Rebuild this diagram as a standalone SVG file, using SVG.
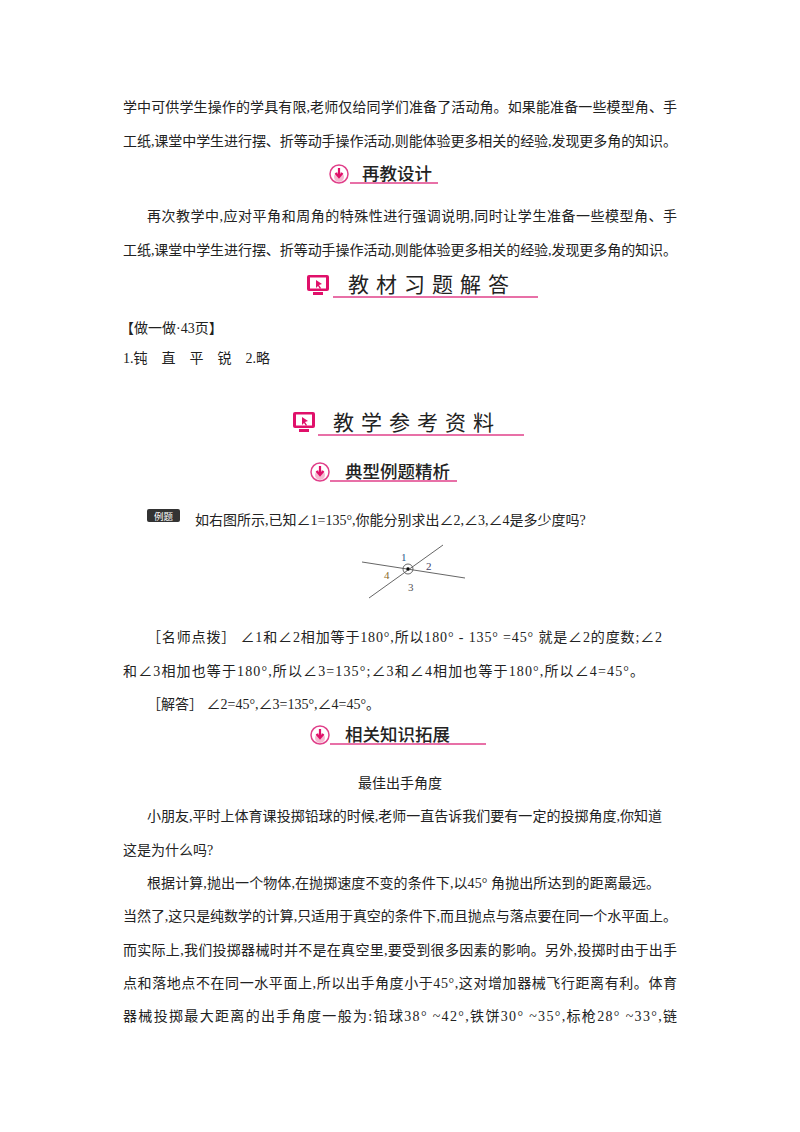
<svg xmlns="http://www.w3.org/2000/svg" width="800" height="1132" viewBox="0 0 800 1132">
<style>
.t{font-family:"Liberation Serif","Noto Sans CJK SC",serif;font-size:14px;fill:#222}
.h{font-family:"Noto Sans CJK SC",sans-serif;font-size:17.5px;font-weight:500;fill:#222}
.H{font-family:"Noto Sans CJK SC",sans-serif;font-size:21px;fill:#222;letter-spacing:7px}
.ul{stroke:#e0408a;stroke-width:1.3}
.n{font-family:"Liberation Serif",serif;font-size:11px}
</style>
<defs>
<g id="ic"><circle r="9" fill="#fff" stroke="#e0408a" stroke-width="1.5"/><circle cy="3" r="5" fill="#f5b8d0"/><path d="M0,-6V2M-3.5,-1L0,3L3.5,-1" stroke="#e0106a" stroke-width="2.2" fill="none"/></g>
<g id="mon"><rect x="-11" y="-10" width="22" height="16" rx="2" fill="#e0106a"/><rect x="-8" y="-7.5" width="16" height="11" fill="#fff"/><path d="M-2,-5l6,4l-3,1l2,3l-1,1l-2,-3l-2,2z" fill="#e0106a"/><rect x="-5" y="7" width="10" height="3" fill="#e0106a"/></g>
</defs>
<rect width="800" height="1132" fill="#fff"/>
<text class="t" x="123" y="112" textLength="554">学中可供学生操作的学具有限,老师仅给同学们准备了活动角。如果能准备一些模型角、手</text>
<text class="t" x="123" y="146" textLength="554">工纸,课堂中学生进行摆、折等动手操作活动,则能体验更多相关的经验,发现更多角的知识。</text>
<g id="h1"><use href="#ic" x="339" y="174"/><text class="h" x="362" y="180">再教设计</text><line class="ul" x1="350" y1="183" x2="438" y2="183"/></g>
<text class="t" x="147" y="221" textLength="530">再次教学中,应对平角和周角的特殊性进行强调说明,同时让学生准备一些模型角、手</text>
<text class="t" x="123" y="255" textLength="554">工纸,课堂中学生进行摆、折等动手操作活动,则能体验更多相关的经验,发现更多角的知识。</text>
<g id="h2"><use href="#mon" x="318" y="285"/><text class="H" x="348" y="292">教材习题解答</text><line class="ul" x1="333" y1="297" x2="538" y2="297"/></g>
<text class="t" x="120" y="333">【做一做·43页】</text>
<text class="t" x="123" y="363" xml:space="preserve">1.钝　直　平　锐　2.略</text>
<g id="h3"><use href="#mon" x="304" y="422"/><text class="H" x="333" y="430">教学参考资料</text><line class="ul" x1="318" y1="435" x2="524" y2="435"/></g>
<g id="h4"><use href="#ic" x="320" y="472"/><text class="h" x="345" y="478">典型例题精析</text><line class="ul" x1="330" y1="481" x2="457" y2="481"/></g>
<rect x="147" y="509" width="33" height="13" rx="2" fill="#333"/><text x="163.5" y="519.5" text-anchor="middle" font-family="Noto Sans CJK SC,sans-serif" font-size="9.5" fill="#fff">例题</text>
<text class="t" x="195" y="525">如右图所示,已知∠1=135°,你能分别求出∠2,∠3,∠4是多少度吗?</text>
<g id="fig" stroke="#555" stroke-width="0.9" fill="none">
<line x1="362" y1="562" x2="465" y2="578"/><line x1="369" y1="598" x2="443" y2="545"/>
<circle cx="408" cy="569" r="5"/><circle cx="408" cy="569" r="1.6" fill="#000"/>
</g>
<text class="n" x="401" y="561" fill="#2a5a8a">1</text><text class="n" x="426" y="570" fill="#446">2</text>
<text class="n" x="384" y="579" fill="#8a6a2a">4</text><text class="n" x="408" y="591" fill="#555">3</text>
<text class="t" x="147" y="642" textLength="515" xml:space="preserve">［名师点拨］ ∠1和∠2相加等于180°,所以180° - 135° =45° 就是∠2的度数;∠2</text>
<text class="t" x="123" y="676" textLength="521">和∠3相加也等于180°,所以∠3=135°;∠3和∠4相加也等于180°,所以∠4=45°。</text>
<text class="t" x="147" y="709" xml:space="preserve">［解答］ ∠2=45°,∠3=135°,∠4=45°。</text>
<g id="h5"><use href="#ic" x="320" y="735"/><text class="h" x="345" y="741">相关知识拓展</text><line class="ul" x1="330" y1="744" x2="486" y2="744"/></g>
<text class="t" x="400" y="788" text-anchor="middle">最佳出手角度</text>
<text class="t" x="147" y="821" textLength="515">小朋友,平时上体育课投掷铅球的时候,老师一直告诉我们要有一定的投掷角度,你知道</text>
<text class="t" x="123" y="855">这是为什么吗?</text>
<text class="t" x="147" y="888" textLength="513">根据计算,抛出一个物体,在抛掷速度不变的条件下,以45° 角抛出所达到的距离最远。</text>
<text class="t" x="123" y="921" textLength="554">当然了,这只是纯数学的计算,只适用于真空的条件下,而且抛点与落点要在同一个水平面上。</text>
<text class="t" x="123" y="955" textLength="554">而实际上,我们投掷器械时并不是在真空里,要受到很多因素的影响。另外,投掷时由于出手</text>
<text class="t" x="123" y="988" textLength="554">点和落地点不在同一水平面上,所以出手角度小于45°,这对增加器械飞行距离有利。体育</text>
<text class="t" x="123" y="1021" textLength="554">器械投掷最大距离的出手角度一般为:铅球38° ~42°,铁饼30° ~35°,标枪28° ~33°,链</text>
</svg>
